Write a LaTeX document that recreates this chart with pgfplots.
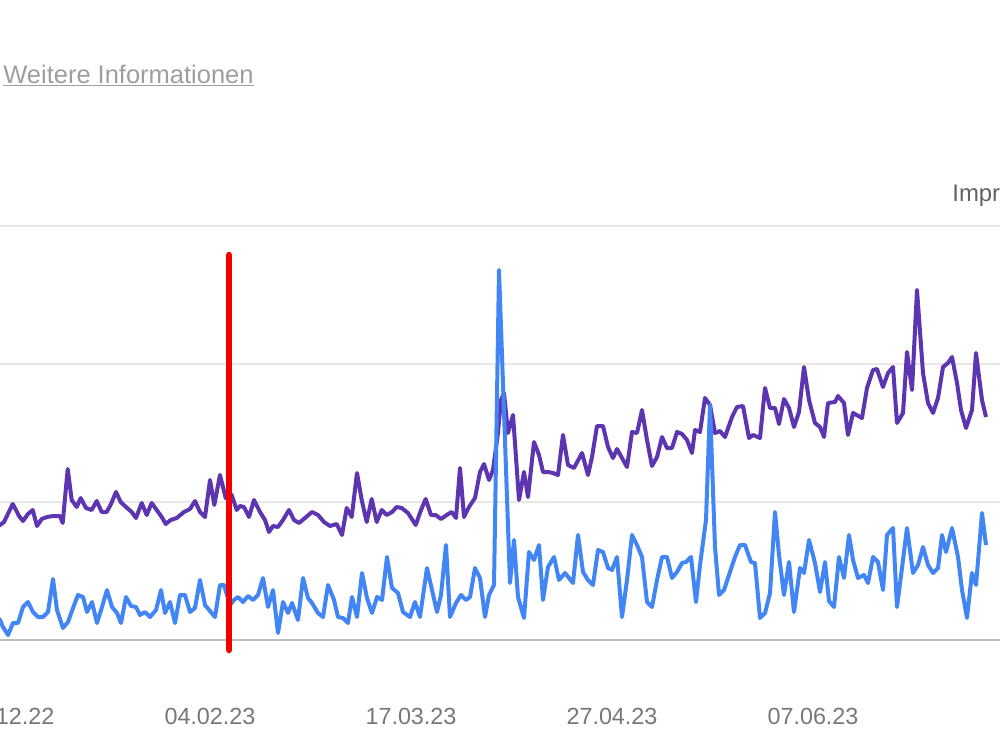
\documentclass[border=0pt]{standalone}
\usepackage{fontspec}
\setmainfont{Liberation Sans}
\usepackage{pgfplots}
\pgfplotsset{compat=1.18}
\definecolor{impr}{HTML}{5E35B1}
\definecolor{clicks}{HTML}{4285F4}
\definecolor{gridc}{HTML}{E8E8E8}
\definecolor{basec}{HTML}{BDBDBD}
\definecolor{ticktext}{HTML}{777777}
\definecolor{linktext}{HTML}{9E9E9E}
\definecolor{legtext}{HTML}{5F6368}
\definecolor{marker}{HTML}{F20000}
\begin{document}
\begin{tikzpicture}
\useasboundingbox (0,0) rectangle (20,15);
\clip (0,0) rectangle (20,15);
\begin{axis}[
  at={(0,0)}, anchor=south west,
  scale only axis, width=20cm, height=15cm,
  xmin=0, xmax=1000, ymin=-110, ymax=640,
  axis line style={draw=none},
  ytick={138,276,414}, yticklabels={},
  extra y ticks={0}, extra y tick labels={},
  extra y tick style={grid style={basec, line width=0.35mm}},
  ymajorgrids, grid style={gridc, line width=0.3mm},
  major tick length=0,
  xtick={9,210,411,612,813},
  xticklabels={24.12.22,04.02.23,17.03.23,27.04.23,07.06.23},
  xticklabel style={anchor=center, yshift=0.68cm, font=\fontsize{13.3}{15}\selectfont, text=ticktext},
  clip=true,
]
% Impressionen (purple)
\addplot[impr, line width=0.8mm, line join=round, mark=none] coordinates {
(-5,112) (0,115) (4,118) (12.7,136) (16,130) (19,124) (23,119) (28,126) (32.7,130) (37,114) (41.7,121) (47,123) (53,124) (60,124) (62.7,117) (67.7,171) (71.7,140) (76.7,133) (80.7,142) (86,132) (91.7,130) (96.7,139) (101.7,128) (106.7,128) (111,136) (116,148) (120.7,138) (126,133) (131.7,128) (136,122) (141.7,137) (146.7,125) (151.7,137) (156.7,130) (161.7,123) (165.7,116) (170.7,120) (176.7,122) (184,128) (190,131) (195,139) (200,128) (205,123) (210,160) (214.3,135) (220,165) (225.7,142) (231.7,145) (236.7,130) (240,134) (244,133) (249,123) (254,140) (260,128) (265,120) (269,108) (273,114) (278,113) (283,120) (289,130) (294,120) (299,117) (305,122) (312,128) (318,125) (324,118) (330,114) (336.7,116) (342,105) (346.7,132) (351.7,123) (357,167) (361.7,140) (366.7,118) (371.7,141) (376.7,118) (381.7,130) (386.7,125) (392,128) (396.7,133) (401.7,132) (408,127) (415.7,115) (421,130) (425.7,141) (431,125) (435.7,125) (441,121) (446.7,125) (451.7,128) (456,122) (460,172) (464,123) (469,133) (475,142) (480,168) (484,176) (489,160) (493,170) (497.7,205) (501,240) (504,247) (508,207) (513,225) (519,140) (524,168) (528,143) (534,198) (539,185) (543,168) (548,168) (553,167) (558,165) (563,205) (568,175) (574,172) (582,187) (588,165) (592,183) (597,214) (603,214) (608,193) (613,182) (617,191) (622,182) (627,173) (632,208) (637,207) (642,230) (647,200) (652,174) (657,183) (662,203) (667,192) (672,192) (677,208) (682,206) (687,200) (692,187) (695,210) (700,208) (705,242) (710,235) (715,207) (720,209) (725,203) (732,223) (737,233) (743,234) (749,202) (753,205) (760,202) (765,252) (770,232) (775,232) (779,216) (784,241) (789,232) (794,213) (799,228) (804,273) (809,240) (815,217) (820,213) (824,203) (828,237) (835,238) (838,244) (844,237) (848,205) (853,227) (862,222) (867,252) (873,270) (877,271) (883,253) (888,267) (893,273) (897,217) (903,227) (907,288) (912,250) (917,350) (923,267) (928,237) (933,227) (938,242) (943,273) (948,277) (952,283) (957,257) (961,230) (966,212) (972,230) (976,287) (982,240) (986,223)
};
% Klicks (blue)
\addplot[clicks, line width=0.8mm, line join=round, mark=none] coordinates {
(-5,25) (0,20) (3,13) (8,5) (13,17) (18,17) (23,33) (28,38) (33,28) (38,23) (43,23) (48,28) (53,61) (57,30) (63,12) (68,18) (73,32) (78,45) (83,43) (87,28) (92,38) (97,17) (102,33) (107,50) (112,33) (117,27) (121,17) (126,43) (131,34) (136,33) (140,25) (145,28) (150,23) (156,30) (161,50) (165,27) (170,38) (175,17) (180,45) (185,45) (190,28) (195,32) (200,60) (205,35) (210,29) (215,23) (220,55) (224,55) (230,35) (234,40) (238,43) (243,38) (248,44) (253,40) (258,45) (263,62) (268,33) (273,50) (278,7) (283,38) (288,27) (292,37) (298,20) (303,62) (308,42) (312,37) (318,27) (323,23) (328,55) (334,40) (338,23) (343,22) (348,17) (352,43) (357,23) (362,67) (367,42) (372,27) (377,43) (382,40) (387,83) (392,52) (398,47) (403,28) (410,23) (415,38) (420,23) (427,72) (432,50) (437,28) (441,45) (446,95) (450,23) (456,37) (461,45) (466,40) (470,43) (475,72) (480,62) (485,23) (489,45) (494,55) (499,370) (510,57) (514,100) (518,43) (524,22) (529,88) (534,80) (539,95) (543,40) (548,73) (554,83) (559,60) (565,67) (573,57) (578,105) (583,68) (588,60) (593,55) (598,90) (603,88) (608,72) (612,70) (617,83) (622,23) (627,60) (632,105) (637,95) (642,83) (647,38) (652,33) (657,60) (662,83) (667,83) (672,62) (677,68) (682,77) (686,78) (691,83) (696,38) (700,75) (706,120) (710,235) (715,93) (719,45) (724,50) (730,68) (735,83) (740,95) (745,95) (751,78) (755,77) (760,22) (765,27) (770,47) (775,128) (779,85) (784,45) (789,78) (794,28) (800,72) (804,67) (809,100) (815,77) (820,48) (825,78) (829,39) (834,33) (839,83) (844,62) (849,105) (853,80) (858,62) (864,65) (868,57) (873,83) (878,78) (883,50) (887,105) (893,112) (897,33) (903,80) (907,112) (913,67) (918,75) (923,93) (928,75) (933,67) (938,72) (942,105) (946,88) (952,112) (958,83) (962,50) (967,22) (972,67) (976,55) (982,127) (986,95)
};
% red marker line
\addplot[marker, line width=1.3mm, line cap=round, mark=none] coordinates {(229,385) (229,-10)};
\node[anchor=base west, inner sep=0pt, font=\fontsize{14.5}{17}\selectfont, text=linktext] at (axis cs:3,557) {\underline{Weitere Informationen}};
\node[anchor=base west, inner sep=0pt, font=\fontsize{13.6}{16}\selectfont, text=legtext] at (axis cs:952,439) {Impressionen};
\end{axis}
\end{tikzpicture}
\end{document}
